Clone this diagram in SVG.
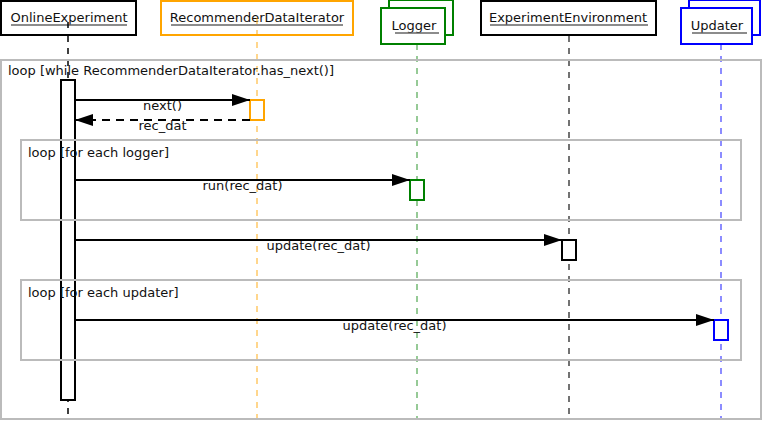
<svg xmlns="http://www.w3.org/2000/svg" width="762" height="421" viewBox="0 0 762 421">
<defs>
<marker id="arr" markerWidth="18" markerHeight="12" refX="18" refY="6" orient="auto" markerUnits="userSpaceOnUse"><path d="M0,0 L18,6 L0,12 Z" fill="#000"/></marker>
<style>
text{font-family:"DejaVu Sans",sans-serif;font-size:13px;fill:#111}
.hd{text-anchor:middle}
.ul{stroke:#666;stroke-width:1.5}
.life{stroke-width:1.5;stroke-dasharray:6,6;fill:none}
.frame{fill:none;stroke:#bbb;stroke-width:2}
.msg{stroke:#000;stroke-width:2;fill:none;marker-end:url(#arr)}
.ret{stroke:#000;stroke-width:2;fill:none;stroke-dasharray:8,6;marker-end:url(#arr)}
.lbl{text-anchor:middle}
.act{fill:#fff;stroke-width:2}
</style>
</defs>
<rect width="762" height="421" fill="#fff"/>
<g id="lifelines">
<line class="life" x1="68" y1="36" x2="68" y2="420" stroke="#000"/>
<line class="life" x1="257" y1="18" x2="257" y2="418" stroke="#FFA500" stroke-opacity="0.6"/>
<line class="life" x1="417" y1="44" x2="417" y2="418" stroke="#008000" stroke-opacity="0.55"/>
<line class="life" x1="569" y1="36" x2="569" y2="418" stroke="#444"/>
<line class="life" x1="721" y1="44" x2="721" y2="418" stroke="#0000ff" stroke-opacity="0.6"/>
</g>
<g id="OnlineExperiment">
<rect x="1" y="1" width="135" height="34" fill="#fff" stroke="#000" stroke-width="2"/>
<text class="hd" x="69" y="22">OnlineExperiment</text>
<line class="ul" x1="11" y1="25" x2="127" y2="25"/>
<line class="life" x1="68" y1="22" x2="68" y2="36" stroke="#000"/>
</g>
<g id="RecommenderDataIterator">
<rect x="161" y="1" width="192" height="34" fill="#fff" stroke="#FFA500" stroke-width="2"/>
<text class="hd" x="257" y="22">RecommenderDataIterator</text>
<line class="ul" x1="171" y1="25" x2="343" y2="25"/>
<line class="life" x1="257" y1="18" x2="257" y2="36" stroke="#FFA500" stroke-opacity="0.6"/>
</g>
<g id="Logger">
<rect x="389" y="0" width="64" height="35" fill="#fff" stroke="#008000" stroke-width="2"/>
<rect x="381" y="8" width="64" height="36" fill="#fff" stroke="#008000" stroke-width="2"/>
<text class="hd" x="414" y="30">Logger</text>
<line class="ul" x1="395" y1="33" x2="439" y2="33"/>
</g>
<g id="ExperimentEnvironment">
<rect x="481" y="1" width="175" height="34" fill="#fff" stroke="#000" stroke-width="2"/>
<text class="hd" x="568" y="22">ExperimentEnvironment</text>
<line class="ul" x1="490" y1="25" x2="648" y2="25"/>
</g>
<g id="Updater">
<rect x="689" y="0" width="71" height="35" fill="#fff" stroke="#0000ff" stroke-width="2"/>
<rect x="681" y="8" width="71" height="36" fill="#fff" stroke="#0000ff" stroke-width="2"/>
<text class="hd" x="717" y="30">Updater</text>
<line class="ul" x1="692" y1="33" x2="747" y2="33"/>
</g>
<g id="activations">
<rect class="act" x="61" y="80" width="14" height="320" stroke="#000"/>
<rect class="act" x="250" y="100" width="14" height="20" stroke="#FFA500"/>
<rect class="act" x="410" y="180" width="14" height="20" stroke="#008000"/>
<rect class="act" x="562" y="240" width="14" height="20" stroke="#000"/>
<rect class="act" x="714" y="320" width="14" height="20" stroke="#0000ff"/>
</g>
<g id="frames">
<rect class="frame" x="1" y="60" width="760" height="359"/>
<text x="8" y="75">loop [while RecommenderDataIterator.has_next()]</text>
<rect class="frame" x="21" y="140" width="720" height="80"/>
<text x="28" y="157">loop [for each logger]</text>
<rect class="frame" x="21" y="280" width="720" height="80"/>
<text x="28" y="297">loop [for each updater]</text>
</g>
<g id="connectors">
<line class="msg" x1="75" y1="100" x2="250" y2="100"/>
<text class="lbl" x="162.5" y="110">next()</text>
<line class="ret" x1="250" y1="120" x2="75" y2="120"/>
<text class="lbl" x="162.5" y="130">rec_dat</text>
<line class="msg" x1="75" y1="180" x2="410" y2="180"/>
<text class="lbl" x="242.5" y="190">run(rec_dat)</text>
<line class="msg" x1="75" y1="240" x2="562" y2="240"/>
<text class="lbl" x="318.5" y="250">update(rec_dat)</text>
<line class="msg" x1="75" y1="320" x2="714" y2="320"/>
<text class="lbl" x="394.5" y="330">update(rec_dat)</text>
</g>
</svg>
